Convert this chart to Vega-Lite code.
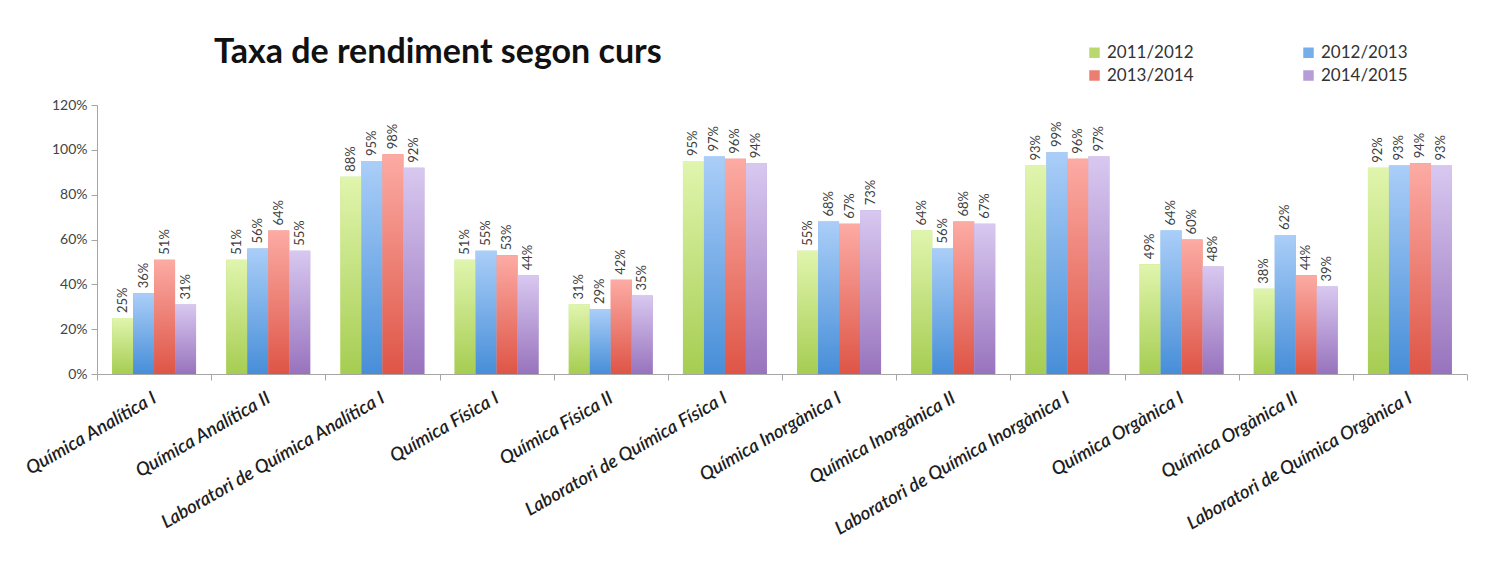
{
  "$schema": "https://vega.github.io/schema/vega-lite/v6.json",
  "width": 1370,
  "height": 269,
  "autosize": {"type": "none"},
  "padding": {"left": 97, "top": 105, "right": 29, "bottom": 200},
  "background": "white",
  "config": {
    "view": {"stroke": null},
    "font": "Lato"
  },
  "title": {
    "text": "Taxa de rendiment segon curs",
    "anchor": "start",
    "frame": "group",
    "dx": 117,
    "offset": -53,
    "baseline": "alphabetic",
    "fontSize": 34,
    "fontWeight": "bold",
    "font": "Lato",
    "color": "#111111"
  },
  "data": {
    "values": [
      {"curs": "Química Analítica I", "any": "2011/2012", "taxa": 25},
      {"curs": "Química Analítica I", "any": "2012/2013", "taxa": 36},
      {"curs": "Química Analítica I", "any": "2013/2014", "taxa": 51},
      {"curs": "Química Analítica I", "any": "2014/2015", "taxa": 31},
      {"curs": "Química Analítica II", "any": "2011/2012", "taxa": 51},
      {"curs": "Química Analítica II", "any": "2012/2013", "taxa": 56},
      {"curs": "Química Analítica II", "any": "2013/2014", "taxa": 64},
      {"curs": "Química Analítica II", "any": "2014/2015", "taxa": 55},
      {"curs": "Laboratori de Química Analítica I", "any": "2011/2012", "taxa": 88},
      {"curs": "Laboratori de Química Analítica I", "any": "2012/2013", "taxa": 95},
      {"curs": "Laboratori de Química Analítica I", "any": "2013/2014", "taxa": 98},
      {"curs": "Laboratori de Química Analítica I", "any": "2014/2015", "taxa": 92},
      {"curs": "Química Física I", "any": "2011/2012", "taxa": 51},
      {"curs": "Química Física I", "any": "2012/2013", "taxa": 55},
      {"curs": "Química Física I", "any": "2013/2014", "taxa": 53},
      {"curs": "Química Física I", "any": "2014/2015", "taxa": 44},
      {"curs": "Química Física II", "any": "2011/2012", "taxa": 31},
      {"curs": "Química Física II", "any": "2012/2013", "taxa": 29},
      {"curs": "Química Física II", "any": "2013/2014", "taxa": 42},
      {"curs": "Química Física II", "any": "2014/2015", "taxa": 35},
      {"curs": "Laboratori de Química Física I", "any": "2011/2012", "taxa": 95},
      {"curs": "Laboratori de Química Física I", "any": "2012/2013", "taxa": 97},
      {"curs": "Laboratori de Química Física I", "any": "2013/2014", "taxa": 96},
      {"curs": "Laboratori de Química Física I", "any": "2014/2015", "taxa": 94},
      {"curs": "Química Inorgànica I", "any": "2011/2012", "taxa": 55},
      {"curs": "Química Inorgànica I", "any": "2012/2013", "taxa": 68},
      {"curs": "Química Inorgànica I", "any": "2013/2014", "taxa": 67},
      {"curs": "Química Inorgànica I", "any": "2014/2015", "taxa": 73},
      {"curs": "Química Inorgànica II", "any": "2011/2012", "taxa": 64},
      {"curs": "Química Inorgànica II", "any": "2012/2013", "taxa": 56},
      {"curs": "Química Inorgànica II", "any": "2013/2014", "taxa": 68},
      {"curs": "Química Inorgànica II", "any": "2014/2015", "taxa": 67},
      {"curs": "Laboratori de Química Inorgànica I", "any": "2011/2012", "taxa": 93},
      {"curs": "Laboratori de Química Inorgànica I", "any": "2012/2013", "taxa": 99},
      {"curs": "Laboratori de Química Inorgànica I", "any": "2013/2014", "taxa": 96},
      {"curs": "Laboratori de Química Inorgànica I", "any": "2014/2015", "taxa": 97},
      {"curs": "Química Orgànica I", "any": "2011/2012", "taxa": 49},
      {"curs": "Química Orgànica I", "any": "2012/2013", "taxa": 64},
      {"curs": "Química Orgànica I", "any": "2013/2014", "taxa": 60},
      {"curs": "Química Orgànica I", "any": "2014/2015", "taxa": 48},
      {"curs": "Química Orgànica II", "any": "2011/2012", "taxa": 38},
      {"curs": "Química Orgànica II", "any": "2012/2013", "taxa": 62},
      {"curs": "Química Orgànica II", "any": "2013/2014", "taxa": 44},
      {"curs": "Química Orgànica II", "any": "2014/2015", "taxa": 39},
      {"curs": "Laboratori de Química Orgànica I", "any": "2011/2012", "taxa": 92},
      {"curs": "Laboratori de Química Orgànica I", "any": "2012/2013", "taxa": 93},
      {"curs": "Laboratori de Química Orgànica I", "any": "2013/2014", "taxa": 94},
      {"curs": "Laboratori de Química Orgànica I", "any": "2014/2015", "taxa": 93}
    ]
  },
  "encoding": {
    "x": {
      "field": "curs",
      "type": "nominal",
      "sort": null,
      "scale": {"paddingInner": 0, "paddingOuter": 0},
      "axis": {
        "title": null,
        "labelAngle": -30,
        "labelAlign": "right",
        "labelBaseline": "middle",
        "labelFontSize": 18.5,
        "labelFontStyle": "italic",
        "labelFontWeight": 600,
        "labelColor": "#1e1e1e",
        "labelPadding": 16,
        "labelOffset": 0,
        "tickBand": "extent",
        "tickSize": 6,
        "tickColor": "#a6a6a6",
        "domainColor": "#a6a6a6",
        "labelLimit": 400
      }
    },
    "xOffset": {
      "field": "any",
      "type": "nominal",
      "scale": {"domain": ["2011/2012", "2012/2013", "2013/2014", "2014/2015"], "paddingInner": 0, "paddingOuter": 0.72}
    },
    "y": {
      "field": "taxa",
      "type": "quantitative",
      "scale": {"domain": [0, 120], "nice": false},
      "axis": {
        "title": null,
        "values": [0, 20, 40, 60, 80, 100, 120],
        "labelExpr": "datum.value + '%'",
        "grid": false,
        "labelFontSize": 14,
        "labelColor": "#444444",
        "tickColor": "#a6a6a6",
        "domainColor": "#a6a6a6",
        "tickSize": 6,
        "labelPadding": 4
      }
    }
  },
  "layer": [
    {
      "mark": {"type": "bar"},
      "encoding": {
        "color": {
          "field": "any",
          "type": "nominal",
          "scale": {
            "domain": ["2011/2012", "2013/2014", "2012/2013", "2014/2015"],
            "range": ["#b9d96f", "#ec7d72", "#75aee9", "#b79cd8"]
          },
          "legend": {
            "title": null,
            "orient": "none",
            "legendX": 989,
            "legendY": -61,
            "columns": 2,
            "columnPadding": 106,
            "rowPadding": 5,
            "symbolType": "square",
            "symbolSize": 110,
            "symbolStrokeWidth": 0,
            "labelFontSize": 17,
            "labelColor": "#333333",
            "labelOffset": 4
          }
        }
      }
    },
    {
      "transform": [{"filter": "datum.any == '2011/2012'"}],
      "mark": {"type": "bar", "color": {"gradient": "linear", "x1": 0, "y1": 0, "x2": 0, "y2": 1, "stops": [{"offset": 0, "color": "#e0f5ad"}, {"offset": 1, "color": "#a6cd52"}]}},
      "encoding": {}
    },
    {
      "transform": [{"filter": "datum.any == '2012/2013'"}],
      "mark": {"type": "bar", "color": {"gradient": "linear", "x1": 0, "y1": 0, "x2": 0, "y2": 1, "stops": [{"offset": 0, "color": "#aacef8"}, {"offset": 1, "color": "#478ed8"}]}},
      "encoding": {}
    },
    {
      "transform": [{"filter": "datum.any == '2013/2014'"}],
      "mark": {"type": "bar", "color": {"gradient": "linear", "x1": 0, "y1": 0, "x2": 0, "y2": 1, "stops": [{"offset": 0, "color": "#fcaba4"}, {"offset": 1, "color": "#de5546"}]}},
      "encoding": {}
    },
    {
      "transform": [{"filter": "datum.any == '2014/2015'"}],
      "mark": {"type": "bar", "color": {"gradient": "linear", "x1": 0, "y1": 0, "x2": 0, "y2": 1, "stops": [{"offset": 0, "color": "#d8c8f0"}, {"offset": 1, "color": "#9873bd"}]}},
      "encoding": {}
    },
    {
      "transform": [{"calculate": "datum.taxa + '%'", "as": "etiqueta"}],
      "mark": {"type": "text", "angle": 270, "align": "left", "baseline": "middle", "dx": 5, "fontSize": 13, "color": "#404040"},
      "encoding": {
        "text": {"field": "etiqueta", "type": "nominal"},
        "detail": {"field": "any"}
      }
    }
  ]
}
